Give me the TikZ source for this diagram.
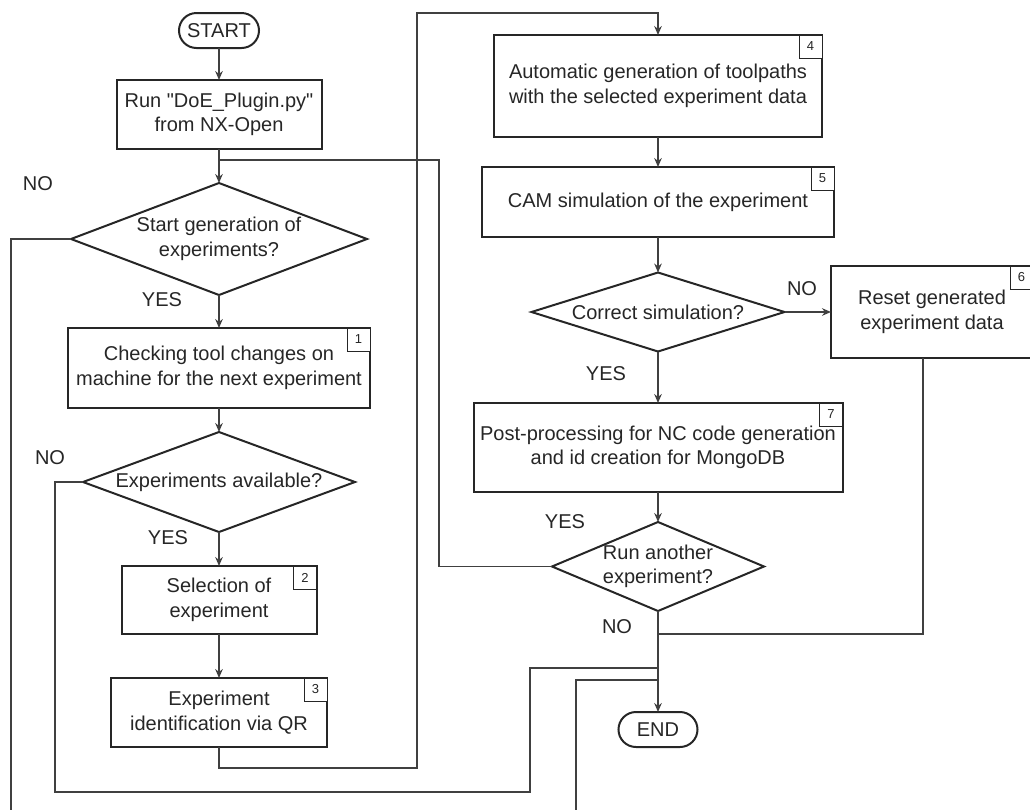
\documentclass[tikz,border=0pt]{standalone}
\usepackage{fontspec}
\setmainfont{Liberation Sans}
\usetikzlibrary{shapes.geometric, arrows.meta}

\begin{document}
\begin{tikzpicture}[x=0.5pt, y=-0.5pt,
    font=\fontsize{10}{12.3}\selectfont, text=black!85,
    >={Stealth[length=4.5pt, width=3.8pt]},
    process/.style={draw=black!85, line width=1pt, rectangle, inner sep=0pt, outer sep=0pt, align=center},
    terminal/.style={draw=black!85, line width=1pt, rectangle, rounded corners=8.75pt, inner sep=0pt, outer sep=0pt},
    decision/.style={draw=black!85, line width=1pt, diamond, inner sep=0pt, outer sep=0pt},
    numbox/.style={draw=black!85, line width=0.5pt, fill=white, minimum size=11.5pt, inner sep=0pt, outer sep=0pt, anchor=north east, font=\fontsize{6.5}{7}\selectfont},
    flow/.style={draw=black!75, line width=0.6pt},
    answer/.style={inner sep=0pt}]
    \useasboundingbox (0, 0) rectangle (1030, 810);
    \clip (0, 0) rectangle (1030, 810);

    % left column
    \node[terminal, minimum width=40pt, minimum height=17.5pt] at (219, 30.5) (start) {START};
    \node[process, minimum width=102.5pt, minimum height=34.5pt] at (219, 114.5) (run) {Run \textquotedbl DoE\_Plugin.py\textquotedbl\\from NX-Open};
    \node[decision, minimum width=148pt, minimum height=56pt, label={[align=center]center:Start generation of\\experiments?}] at (219, 239) (gen) {};
    \node[process, minimum width=151pt, minimum height=40pt] at (219, 368) (check) {Checking tool changes on\\machine for the next experiment};
    \node[decision, minimum width=136pt, minimum height=50pt, label={center:Experiments available?}] at (219, 482) (avail) {};
    \node[process, minimum width=97.5pt, minimum height=34pt] at (219, 600) (select) {Selection of\\experiment};
    \node[process, minimum width=108pt, minimum height=34.5pt] at (219, 712.5) (ident) {Experiment\\identification via QR};

    % right column
    \node[process, minimum width=164pt, minimum height=51pt] at (658, 86) (toolpath) {Automatic generation of toolpaths\\with the selected experiment data};
    \node[process, minimum width=176pt, minimum height=35pt] at (658, 202) (cam) {CAM simulation of the experiment};
    \node[decision, minimum width=126.5pt, minimum height=39.5pt, label={center:Correct simulation?}] at (658, 312) (sim) {};
    \node[process, minimum width=101pt, minimum height=46pt] at (932, 312) (reset) {Reset generated\\experiment data};
    \node[process, minimum width=184.5pt, minimum height=44.5pt] at (658, 447.5) (post) {Post-processing for NC code generation\\and id creation for MongoDB};
    \node[decision, minimum width=106pt, minimum height=44.5pt, label={[align=center]center:Run another\\experiment?}] at (658, 566.5) (again) {};
    \node[terminal, minimum width=39.5pt, minimum height=17.5pt] at (658, 729.5) (finish) {END};

    % step numbers
    \node[numbox] at (check.north east) (n1) {1};
    \node[numbox] at (select.north east) (n2) {2};
    \node[numbox] at (ident.north east) (n3) {3};
    \node[numbox] at (toolpath.north east) (n4) {4};
    \node[numbox] at (cam.north east) (n5) {5};
    \node[numbox] at (reset.north east) (n6) {6};
    \node[numbox] at (post.north east) (n7) {7};

    % answers
    \node[answer] at (38, 184) (no1) {NO};
    \node[answer] at (162, 300) (yes1) {YES};
    \node[answer] at (50, 458) (no2) {NO};
    \node[answer] at (168, 538) (yes2) {YES};
    \node[answer] at (802, 289) (no3) {NO};
    \node[answer] at (606, 374) (yes3) {YES};
    \node[answer] at (565, 522) (yes4) {YES};
    \node[answer] at (617, 627) (no4) {NO};

    % bends
    \coordinate (lp1) at (417, 768);
    \coordinate (lp2) at (417, 13);
    \coordinate (lp3) at (439, 160);
    \coordinate (lp4) at (11, 830);
    \coordinate (lp5) at (576, 680);
    \coordinate (lp6) at (55, 792);
    \coordinate (lp7) at (530, 668);
    \coordinate (lp8) at (923, 634);

    % edges
    \draw[flow, ->] (start) -- (run);
    \draw[flow, ->] (run) -- (gen);
    \draw[flow, ->] (gen) -- (check);
    \draw[flow, ->] (check) -- (avail);
    \draw[flow, ->] (avail) -- (select);
    \draw[flow, ->] (select) -- (ident);
    \draw[flow, ->] (ident.south) |- (lp1) -- (lp2) -| (toolpath.north);
    \draw[flow, ->] (toolpath) -- (cam);
    \draw[flow, ->] (cam) -- (sim);
    \draw[flow, ->] (sim) -- (reset);
    \draw[flow, ->] (sim) -- (post);
    \draw[flow, ->] (post) -- (again);
    \draw[flow, ->] (again) -- (finish);

    % loops back
    \draw[flow] (again.west) -| (lp3) -- (gen.north |- lp3);
    \draw[flow] (gen.west) -| (lp4) -| (lp5) -- (lp5 -| finish.north);
    \draw[flow] (avail.west) -| (lp6) -| (lp7) -- (lp7 -| finish.north);
    \draw[flow] (reset.south -| lp8) -- (lp8) -- (lp8 -| finish.north);
\end{tikzpicture}
\end{document}
